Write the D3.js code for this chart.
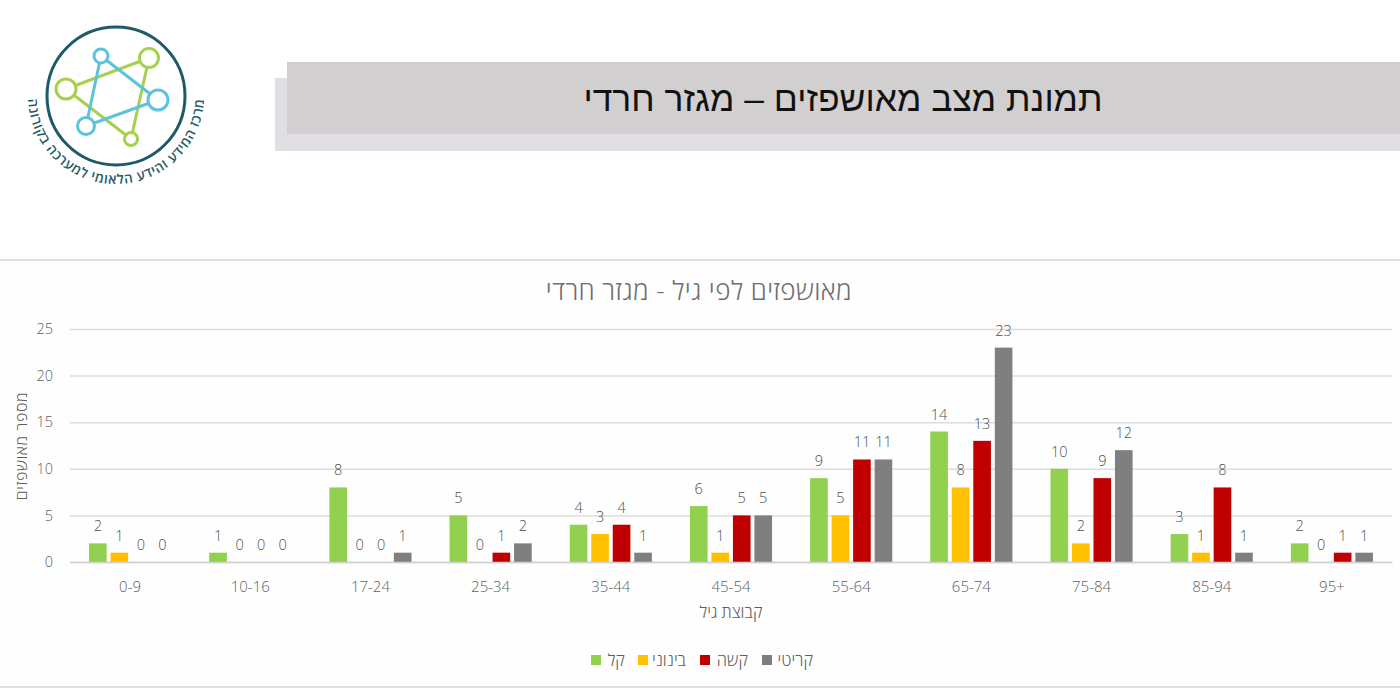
<!DOCTYPE html>
<html>
<head>
<meta charset="utf-8">
<script src="https://d3js.org/d3.v7.min.js"></script>
<style>
  html, body { margin: 0; padding: 0; background: #fff; }
  text { font-family: "Open Sans", sans-serif; font-weight: 300; }
</style>
</head>
<body>
<svg id="chart" width="1400" height="700"></svg>
<script>
const ageGroups = ["0-9", "10-16", "17-24", "25-34", "35-44", "45-54", "55-64", "65-74", "75-84", "85-94", "95+"];
const seriesNames = ["קל", "בינוני", "קשה", "קריטי"];
const seriesColors = ["#92d050", "#ffc000", "#c00000", "#7f7f7f"];
const mild = [2, 1, 8, 5, 4, 6, 9, 14, 10, 3, 2];
const moderate = [1, 0, 0, 0, 3, 1, 5, 8, 2, 1, 0];
const severe = [0, 0, 0, 1, 4, 5, 11, 13, 9, 8, 1];
const critical = [0, 0, 1, 2, 1, 5, 11, 23, 12, 1, 1];
const yTicks = [0, 5, 10, 15, 20, 25];
const seriesValues = [mild, moderate, severe, critical];

const svg = d3.select("#chart");

// header band
svg.append("rect").attr("x", 275).attr("y", 78).attr("width", 1125).attr("height", 73).attr("fill", "#e1dfe3");
svg.append("rect").attr("x", 287).attr("y", 62).attr("width", 1113).attr("height", 72).attr("fill", "#d2cfd1");
svg.append("text").attr("x", 843).attr("y", 111)
    .attr("text-anchor", "middle")
    .style("font-family", "'Liberation Sans', sans-serif")
    .style("font-weight", "400")
    .style("font-size", "35.5px")
    .attr("fill", "#111")
    .text("תמונת מצב מאושפזים – מגזר חרדי");

// logo
const logo = svg.append("g");
logo.append("circle").attr("cx", 116).attr("cy", 96).attr("r", 69)
    .attr("fill", "none").attr("stroke", "#1f5a66").attr("stroke-width", 3);
[[66, 89, 149, 58], [149, 58, 131, 139], [131, 139, 66, 89]].forEach(l => {
    logo.append("line").attr("x1", l[0]).attr("y1", l[1]).attr("x2", l[2]).attr("y2", l[3])
        .attr("stroke", "#a6d04e").attr("stroke-width", 3);
});
[[101, 56, 158, 100], [158, 100, 86, 126], [86, 126, 101, 56]].forEach(l => {
    logo.append("line").attr("x1", l[0]).attr("y1", l[1]).attr("x2", l[2]).attr("y2", l[3])
        .attr("stroke", "#5cc3dd").attr("stroke-width", 3);
});
[[101, 56, 7, "#5cc3dd"], [149, 58, 9.5, "#a6d04e"], [66, 89, 10, "#a6d04e"],
 [158, 100, 10, "#5cc3dd"], [86, 126, 8.5, "#5cc3dd"], [131, 139, 6.5, "#a6d04e"]].forEach(c => {
    logo.append("circle").attr("cx", c[0]).attr("cy", c[1]).attr("r", c[2])
        .attr("fill", "#fff").attr("stroke", c[3]).attr("stroke-width", 3);
});
// arc runs well past the text ends so no letters get dropped
logo.append("path").attr("id", "logoArc").attr("fill", "none")
    .attr("d", "M 41 50 A 88 88 0 1 0 191 50");
logo.append("text")
    .style("font-size", "13.5px").style("font-weight", "600").style("letter-spacing", "0.7px")
    .attr("fill", "#1f5a66")
    .attr("direction", "rtl")
    .append("textPath").attr("href", "#logoArc")
    .attr("startOffset", "50%").attr("text-anchor", "middle")
    .text("מרכז המידע והידע הלאומי למערכה בקורונה");

// chart panel
svg.append("rect").attr("x", 0).attr("y", 260).attr("width", 1400).attr("height", 427).attr("fill", "#fefefe");
svg.append("line").attr("x1", 0).attr("x2", 1400).attr("y1", 260).attr("y2", 260).attr("stroke", "#d4d4d4").attr("stroke-width", 1.5);
svg.append("line").attr("x1", 0).attr("x2", 1400).attr("y1", 687).attr("y2", 687).attr("stroke", "#d4d4d4").attr("stroke-width", 1.5);

svg.append("text").attr("x", 699).attr("y", 300)
    .attr("text-anchor", "middle").style("font-size", "26px").style("letter-spacing", "0.45px").attr("fill", "#6f6f6f")
    .text("מאושפזים לפי גיל - מגזר חרדי");

const x = d3.scaleBand().domain(ageGroups).range([70, 1392]);
const inner = d3.scaleBand().domain(d3.range(4)).range([0, x.bandwidth()]).paddingInner(0.18).paddingOuter(0.885);
const y = d3.scaleLinear().domain([0, 25]).range([562, 329]);

// y axis + gridlines
const yAxis = svg.append("g").attr("transform", "translate(70,0)")
    .call(d3.axisLeft(y).tickValues(yTicks).tickSize(-1322).tickPadding(17));
yAxis.select(".domain").remove();
yAxis.selectAll("line").attr("stroke", "#dcdcdc").attr("stroke-width", 1.5);
yAxis.selectAll("text").style("font-size", "14.5px").style("font-family", "'Open Sans', sans-serif").attr("fill", "#5f5f5f");

// bars
seriesValues.forEach((vals, s) => {
    svg.append("g").selectAll("rect").data(vals).join("rect")
        .attr("x", (d, i) => x(ageGroups[i]) + inner(s))
        .attr("y", d => y(d))
        .attr("width", inner.bandwidth())
        .attr("height", d => y(0) - y(d))
        .attr("fill", seriesColors[s]);
    svg.append("g").selectAll("text").data(vals).join("text")
        .attr("x", (d, i) => x(ageGroups[i]) + inner(s) + inner.bandwidth() / 2)
        .attr("y", d => y(d) - 12)
        .attr("text-anchor", "middle")
        .style("font-size", "14.5px")
        .attr("fill", "#4f4f4f")
        .text(d => d);
});

// x axis
const xAxis = svg.append("g").attr("transform", "translate(0,562)")
    .call(d3.axisBottom(x).tickSize(0).tickPadding(19));
xAxis.select(".domain").attr("stroke", "#d0d0d0").attr("stroke-width", 1.5);
xAxis.selectAll("text").style("font-size", "15px").style("font-family", "'Open Sans', sans-serif").attr("fill", "#5f5f5f");

svg.append("text").attr("x", 731).attr("y", 618)
    .attr("text-anchor", "middle").style("font-size", "16.5px").attr("fill", "#5f5f5f")
    .text("קבוצת גיל");
svg.append("text").attr("transform", "translate(27,446) rotate(-90)")
    .attr("text-anchor", "middle").style("font-size", "16px").style("letter-spacing", "0.6px").attr("fill", "#5f5f5f")
    .text("מספר מאושפזים");

// legend
const legendSwatchX = d3.scaleOrdinal().domain(seriesNames).range([591, 638, 700, 762]);
const legend = svg.append("g").selectAll("g").data(seriesNames).join("g")
    .attr("transform", d => "translate(" + legendSwatchX(d) + ",655)");
legend.append("rect").attr("width", 10).attr("height", 10).attr("fill", (d, i) => seriesColors[i]);
legend.append("text").attr("x", 13).attr("y", 11)
    .style("font-size", "16.5px").attr("fill", "#5f5f5f")
    .attr("text-anchor", "end").attr("dx", (d, i) => [21, 35, 35, 38][i])
    .text(d => d);
</script>
</body>
</html>
